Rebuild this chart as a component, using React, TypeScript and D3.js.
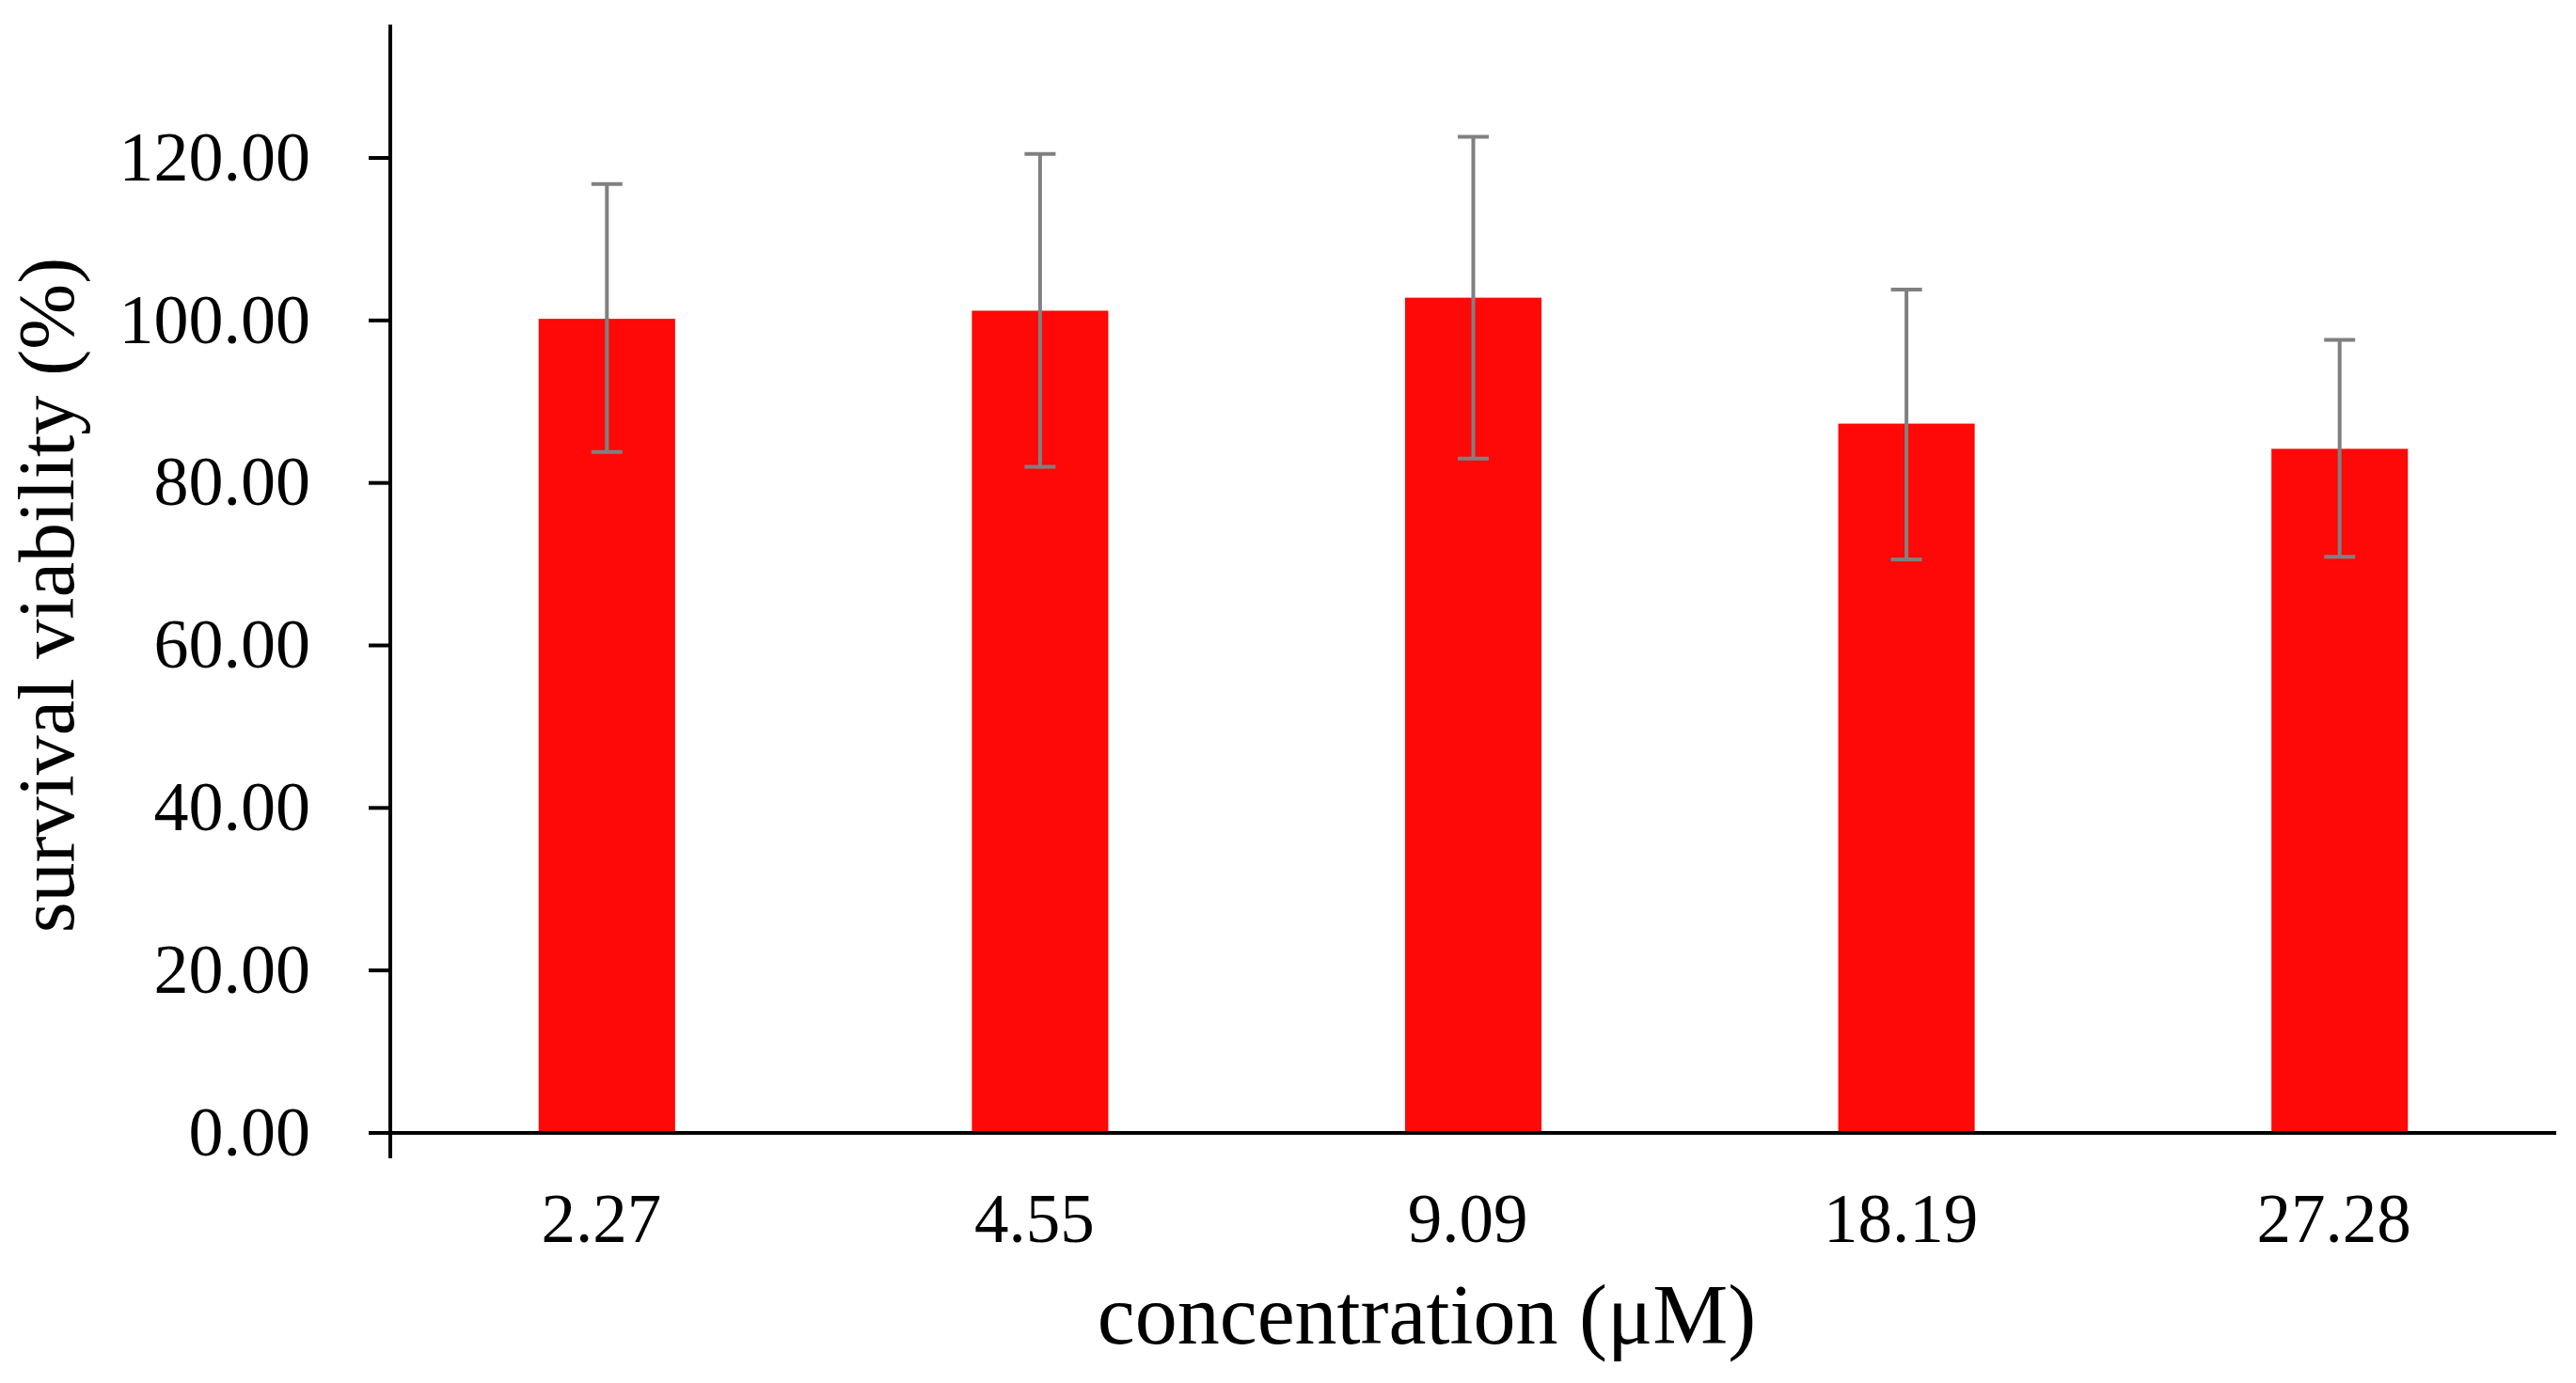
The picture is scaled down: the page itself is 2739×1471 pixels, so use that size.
import * as d3 from "d3";
import React from "react";

const concentrations = ["2.27", "4.55", "9.09", "18.19", "27.28"];
const viability = [100.2, 101.2, 102.8, 87.3, 84.2];
const errorUp = [16.6, 19.3, 19.8, 16.5, 13.4];
const errorDown = [16.4, 19.2, 19.8, 16.7, 13.3];
const yTicks = [0, 20, 40, 60, 80, 100, 120];

const width = 2739;
const height = 1471;
const font = "'Liberation Serif', 'Times New Roman', serif";

export default function App() {
    const axisLeft = 415;
    const axisRight = 2718;
    const y0 = 1205;
    const y120 = 168;

    const xScale = d3.scaleBand<string>()
        .domain(concentrations)
        .range([axisLeft, axisRight])
        .paddingInner(0)
        .paddingOuter(0);
    const yScale = d3.scaleLinear()
        .domain([0, 120])
        .range([y0, y120]);

    const step = xScale.bandwidth();
    const barWidth = step * 0.315;
    const capWidth = 33;
    const yTop = yScale(136.4);

    return (
        <div style={{ position: "absolute", left: 0, top: 0 }}>
            <svg width={width} height={height} style={{ display: "block", background: "#fff" }}>
                {/* bars */}
                {concentrations.map((c, i) => {
                    const cx = (xScale(c) || 0) + step / 2;
                    return (
                        <rect
                            key={"bar" + c}
                            x={cx - barWidth / 2}
                            y={yScale(viability[i])}
                            width={barWidth}
                            height={y0 - yScale(viability[i])}
                            fill="#ff0808"
                        />
                    );
                })}
                {/* error bars */}
                {concentrations.map((c, i) => {
                    const cx = (xScale(c) || 0) + step / 2;
                    const hi = yScale(viability[i] + errorUp[i]);
                    const lo = yScale(viability[i] - errorDown[i]);
                    return (
                        <g key={"err" + c} stroke="#808080" strokeWidth={4}>
                            <line x1={cx} x2={cx} y1={hi} y2={lo} />
                            <line x1={cx - capWidth / 2} x2={cx + capWidth / 2} y1={hi} y2={hi} />
                            <line x1={cx - capWidth / 2} x2={cx + capWidth / 2} y1={lo} y2={lo} />
                        </g>
                    );
                })}
                {/* y axis */}
                <line x1={axisLeft} x2={axisLeft} y1={yTop} y2={y0 + 27} stroke="#000" strokeWidth={4} />
                {yTicks.map(t => (
                    <g key={"yt" + t}>
                        <line x1={axisLeft - 23} x2={axisLeft} y1={yScale(t)} y2={yScale(t)} stroke="#000" strokeWidth={4} />
                        <text
                            x={330}
                            y={yScale(t)}
                            dy="0.32em"
                            textAnchor="end"
                            fontFamily={font}
                            fontSize={74}
                            fill="#000"
                        >
                            {t.toFixed(2)}
                        </text>
                    </g>
                ))}
                {/* x axis */}
                <line x1={axisLeft - 23} x2={axisRight} y1={y0} y2={y0} stroke="#000" strokeWidth={4} />
                {concentrations.map(c => (
                    <text
                        key={"xt" + c}
                        x={(xScale(c) || 0) + step / 2 - 6}
                        y={1321}
                        textAnchor="middle"
                        fontFamily={font}
                        fontSize={73}
                        fill="#000"
                    >
                        {c}
                    </text>
                ))}
                {/* axis titles */}
                <text
                    x={1517}
                    y={1429}
                    textAnchor="middle"
                    fontFamily={font}
                    fontSize={90}
                    fill="#000"
                >
                    concentration (μM)
                </text>
                <text
                    transform={`translate(78,633) rotate(-90)`}
                    textAnchor="middle"
                    fontFamily={font}
                    fontSize={84}
                    fill="#000"
                >
                    survival viability (%)
                </text>
            </svg>
        </div>
    );
}
